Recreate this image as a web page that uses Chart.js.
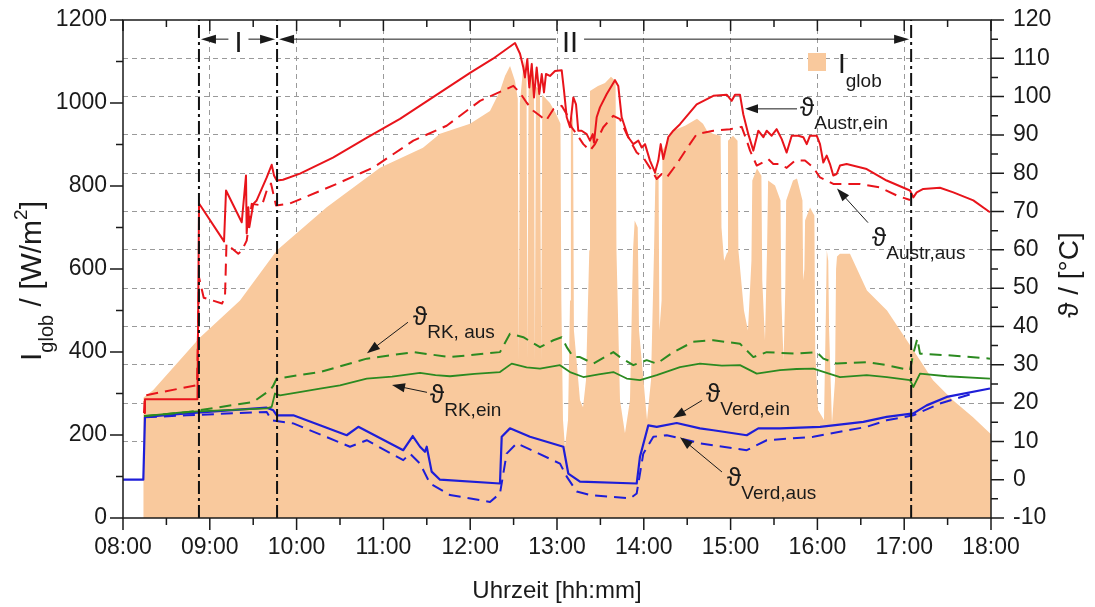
<!DOCTYPE html>
<html>
<head>
<meta charset="utf-8">
<title>Globalstrahlung und Temperaturen</title>
<script src="https://cdn.jsdelivr.net/npm/chart.js@4.4.1/dist/chart.umd.min.js"></script>
<style>
  html, body { margin: 0; padding: 0; background: #ffffff; }
  #wrap { width: 1095px; height: 607px; }
</style>
</head>
<body>
<div id="wrap"><canvas id="c" width="1095" height="607"></canvas></div>
<script>
const FONT = "'Liberation Sans', Arial, 'DejaVu Sans', sans-serif";

// Global irradiance I_glob [W/m²] as [time in h, value]
const irradiance = [
  [8.233, 0], [8.234, 290], [8.346, 308], [8.887, 435], [9.348, 524], [9.774, 645],
  [10.347, 749], [10.961, 844], [11.456, 892], [11.652, 926], [11.998, 950], [12.228, 981],
  [12.343, 1029], [12.401, 1065], [12.459, 1089], [12.516, 1053], [12.548, 1010], [12.560, 380],
  [12.572, 1000], [12.620, 1106], [12.649, 1060], [12.660, 380], [12.672, 1030], [12.712, 1101],
  [12.735, 1060], [12.745, 380], [12.757, 1040], [12.804, 1030], [12.818, 380], [12.830, 1020],
  [12.919, 1000], [12.988, 975], [13.040, 950], [13.050, 524], [13.069, 236], [13.092, 171],
  [13.127, 236], [13.150, 524], [13.160, 981], [13.185, 960], [13.195, 452], [13.265, 284],
  [13.300, 267], [13.334, 332], [13.372, 645], [13.380, 1029], [13.472, 1041], [13.553, 1048],
  [13.622, 1063], [13.675, 1053], [13.685, 645], [13.726, 284], [13.783, 204], [13.841, 284],
  [13.876, 645], [13.895, 717], [13.930, 700], [13.945, 452], [14.037, 236], [14.083, 332],
  [14.118, 645], [14.135, 837], [14.170, 825], [14.180, 452], [14.205, 524], [14.215, 885],
  [14.336, 933], [14.475, 945], [14.613, 962], [14.682, 950], [14.728, 933], [14.797, 926],
  [14.885, 921], [14.895, 700], [14.925, 620], [14.960, 640], [14.970, 909], [15.028, 921],
  [15.080, 909], [15.090, 645], [15.154, 500], [15.200, 452], [15.240, 620], [15.250, 813],
  [15.304, 842], [15.355, 825], [15.365, 572], [15.396, 428], [15.420, 645], [15.432, 813],
  [15.512, 801], [15.575, 765], [15.585, 524], [15.610, 380], [15.630, 548], [15.640, 765],
  [15.719, 813], [15.765, 818], [15.828, 765], [15.836, 572], [15.850, 600], [15.858, 717],
  [15.915, 748], [15.965, 729], [15.975, 404], [16.007, 260], [16.076, 236], [16.098, 500],
  [16.108, 645], [16.125, 620], [16.135, 452], [16.168, 228], [16.203, 332], [16.215, 600],
  [16.226, 630], [16.260, 637], [16.375, 637], [16.571, 548], [16.802, 500], [17.032, 428],
  [17.182, 380], [17.332, 332], [17.562, 284], [17.793, 243], [17.988, 204], [18.0, 202]
];

// Absorber temperatures [°C]
const austrEin = [
  [8.242, 17.4], [8.253, 21.0], [8.858, 21.0], [8.876, 72.1], [9.164, 62.2], [9.187, 75.5],
  [9.368, 67.2], [9.417, 79.4], [9.425, 64.3], [9.444, 71.1], [9.455, 65.9], [9.501, 72.0],
  [9.540, 72.9], [9.656, 78.9], [9.713, 82.2], [9.740, 79.4], [9.771, 78.1], [9.843, 78.3],
  [10.039, 79.9], [10.419, 84.1], [10.811, 89.3], [11.191, 94.2], [11.998, 106.2], [12.263, 109.9],
  [12.516, 114.0], [12.574, 111.2], [12.612, 107.6], [12.631, 105.0], [12.658, 109.8], [12.681, 102.4],
  [12.709, 108.5], [12.735, 99.8], [12.766, 107.6], [12.796, 100.7], [12.824, 105.9], [12.850, 101.1],
  [12.873, 105.9], [12.919, 105.4], [12.977, 106.7], [13.054, 106.9], [13.081, 101.5], [13.112, 94.6],
  [13.150, 92.0], [13.188, 99.8], [13.219, 98.0], [13.245, 91.1], [13.284, 91.1], [13.342, 90.2],
  [13.380, 88.5], [13.411, 90.2], [13.426, 88.0], [13.457, 94.6], [13.495, 97.2], [13.573, 100.7],
  [13.668, 104.3], [13.706, 102.8], [13.745, 94.6], [13.783, 92.0], [13.821, 89.4], [13.879, 87.6],
  [13.937, 88.5], [13.976, 86.7], [14.014, 87.6], [14.071, 83.3], [14.129, 80.2], [14.167, 83.3],
  [14.195, 87.6], [14.225, 83.7], [14.282, 89.4], [14.340, 91.1], [14.417, 92.8], [14.609, 98.0],
  [14.801, 100.2], [14.955, 100.5], [15.013, 98.9], [15.051, 100.5], [15.108, 100.5], [15.146, 95.4],
  [15.204, 90.2], [15.262, 85.9], [15.319, 91.1], [15.377, 89.4], [15.416, 91.1], [15.473, 89.8],
  [15.531, 91.5], [15.589, 88.9], [15.646, 85.4], [15.704, 89.8], [15.780, 89.8], [15.838, 89.4],
  [15.877, 87.6], [15.915, 89.8], [15.992, 89.8], [16.030, 87.6], [16.068, 82.8], [16.107, 84.6],
  [16.145, 82.4], [16.183, 79.4], [16.222, 79.8], [16.260, 82.0], [16.337, 82.4], [16.568, 81.1],
  [16.798, 78.1], [17.067, 75.5], [17.105, 73.7], [17.144, 75.0], [17.220, 75.9], [17.412, 76.2],
  [17.566, 75.0], [17.796, 72.9], [17.988, 69.8]
];

const austrAus = [
  [8.242, 17.4], [8.253, 22.0], [8.853, 24.7], [8.876, 52.8], [8.930, 47.5], [9.141, 46.0],
  [9.175, 47.6], [9.192, 61.6], [9.328, 59.0], [9.368, 59.8], [9.425, 62.4], [9.483, 72.0],
  [9.601, 71.6], [9.656, 75.5], [9.705, 77.3], [9.763, 71.6], [9.924, 72.1], [10.462, 77.2],
  [10.884, 81.5], [11.345, 88.5], [11.729, 92.4], [12.113, 98.9], [12.497, 102.8], [12.574, 101.0],
  [12.651, 98.4], [12.727, 96.3], [12.804, 95.0], [12.873, 93.7], [12.958, 96.7], [13.054, 97.6],
  [13.112, 95.4], [13.169, 92.0], [13.227, 90.2], [13.303, 87.6], [13.380, 85.9], [13.438, 87.6],
  [13.533, 92.0], [13.649, 95.0], [13.726, 94.1], [13.803, 90.2], [13.918, 85.4], [13.994, 84.1],
  [14.091, 80.7], [14.149, 78.5], [14.206, 79.8], [14.264, 78.9], [14.379, 82.4], [14.494, 86.4],
  [14.609, 90.2], [14.801, 91.1], [14.993, 91.5], [15.128, 92.1], [15.186, 88.5], [15.224, 85.9],
  [15.301, 82.0], [15.377, 82.9], [15.434, 83.7], [15.492, 82.4], [15.569, 82.4], [15.646, 81.4],
  [15.742, 83.3], [15.857, 83.3], [15.953, 81.5], [16.030, 78.9], [16.107, 78.1], [16.183, 77.2],
  [16.298, 77.2], [16.490, 77.2], [16.720, 76.3], [16.913, 74.2], [17.067, 73.0]
];

// Return-line (RK) temperatures [°C]
const rkEin = [
  [8.242, 16.6], [8.734, 17.7], [9.656, 18.6], [9.713, 19.0], [9.751, 22.5], [9.809, 22.0],
  [10.050, 22.9], [10.270, 23.8], [10.500, 24.6], [10.808, 26.4], [11.100, 26.9], [11.422, 27.9],
  [11.600, 27.3], [11.767, 27.0], [12.050, 27.6], [12.343, 28.1], [12.478, 30.3], [12.650, 29.3],
  [12.804, 29.0], [13.034, 29.9], [13.150, 28.1], [13.303, 26.8], [13.480, 27.5], [13.649, 28.1],
  [13.803, 26.4], [13.956, 26.0], [14.149, 27.3], [14.417, 29.4], [14.647, 30.3], [14.900, 29.8],
  [15.108, 29.9], [15.301, 27.7], [15.569, 28.6], [15.760, 28.9], [15.953, 29.0], [16.260, 26.8],
  [16.568, 27.3], [16.800, 26.8], [17.067, 26.0], [17.105, 24.2], [17.182, 27.7], [17.490, 27.0],
  [17.988, 26.4]
];

const rkAus = [
  [8.242, 16.6], [8.734, 17.6], [9.501, 20.3], [9.694, 23.4], [9.728, 24.4], [9.771, 26.4],
  [10.270, 28.1], [10.808, 31.6], [11.345, 33.3], [11.767, 32.0], [12.343, 33.3], [12.458, 38.1],
  [12.612, 37.2], [12.804, 34.6], [12.958, 36.4], [13.054, 37.2], [13.112, 34.6], [13.188, 32.0],
  [13.265, 32.0], [13.419, 30.3], [13.649, 33.3], [13.726, 32.0], [13.879, 29.9], [14.033, 31.2],
  [14.149, 30.3], [14.340, 33.3], [14.570, 36.0], [14.801, 36.4], [15.108, 35.5], [15.262, 32.0],
  [15.416, 33.3], [15.762, 32.9], [15.992, 33.3], [16.068, 31.6], [16.222, 30.3], [16.568, 30.7],
  [16.798, 29.9], [17.067, 28.6], [17.105, 32.9], [17.151, 36.8], [17.182, 32.9], [17.490, 32.5],
  [17.988, 31.6]
];

// Evaporator temperatures [°C]
const verdEin = [
  [8.0, 0.0], [8.234, 0.0], [8.253, 16.4], [8.734, 17.3], [9.656, 18.8], [9.732, 18.1],
  [9.771, 16.8], [9.962, 16.8], [10.577, 11.6], [10.711, 13.8], [11.229, 7.7], [11.338, 11.4],
  [11.422, 8.6], [11.479, 7.3], [11.499, 8.6], [11.556, 2.1], [11.652, 0.0], [12.343, -1.0],
  [12.363, 11.2], [12.458, 13.4], [12.689, 11.2], [13.073, 8.6], [13.130, 1.6], [13.265, -0.5],
  [13.918, -1.0], [13.956, 6.0], [14.052, 14.2], [14.149, 13.8], [14.379, 14.8], [14.647, 13.4],
  [14.801, 12.9], [15.186, 11.6], [15.319, 13.4], [15.569, 13.4], [16.030, 13.8], [16.529, 15.1],
  [16.798, 16.4], [17.105, 17.3], [17.259, 19.4], [17.490, 21.6], [17.988, 23.8]
];

const verdAus = [
  [8.253, 16.3], [8.734, 16.8], [9.656, 17.7], [9.713, 15.5], [9.962, 14.7], [10.615, 8.6],
  [10.808, 10.3], [11.229, 5.1], [11.306, 6.8], [11.422, 4.2], [11.537, -1.0], [11.767, -4.0],
  [12.228, -5.8], [12.343, -3.6], [12.420, 6.8], [12.536, 9.5], [13.035, 4.2], [13.112, 0.8],
  [13.227, -3.1], [13.380, -4.0], [13.841, -4.9], [13.918, -3.6], [13.994, 6.8], [14.110, 11.2],
  [14.264, 11.6], [14.417, 10.8], [14.647, 9.5], [15.186, 7.7], [15.416, 10.3], [15.953, 11.2],
  [16.568, 13.8], [16.798, 15.5], [17.105, 16.8], [17.412, 19.9], [17.796, 22.5]
];

// Operating phases: boundaries [h], names, label positions [h], arrow level [°C]
const phaseBounds = [8.875, 9.775, 17.08];
const phaseNames = ['I', 'II'];
const phaseLabelAt = [9.33, 13.15];
const phaseLevel = 115;

// Curve labels: subscript, text anchor [h, °C], arrow tail and head [h, °C]
const calloutSubs = ['Austr,ein', 'Austr,aus', 'RK, aus', 'RK,ein', 'Verd,ein', 'Verd,aus'];
const calloutAt   = [[15.80, 95.0], [16.629, 60.9], [11.341, 40.3], [11.537, 20.0], [14.717, 20.2], [14.959, -1.7]];
const arrowFrom   = [[15.765, 96.8], [16.583, 67.1], [11.283, 41.1], [11.502, 22.8], [14.671, 20.7], [14.901, 2.0]];
const arrowTo     = [[15.166, 96.8], [16.226, 76.0], [10.811, 33.0], [11.099, 24.7], [14.336, 16.1], [14.417, 11.1]];

// Axis ranges
const xRange = [8, 18];
const irrRange = [0, 1200];
const tempRange = [-10, 120];

const ORANGE = '#f9c99d';
const RED = '#e8141b';
const GREEN = '#2b8a20';
const BLUE = '#1e1ed8';
const INK = '#1a1a1a';

const toPts = arr => arr.map(([x, y]) => ({ x, y }));
const hhmm = v => String(Math.floor(v)).padStart(2, '0') + ':' + String(Math.round((v % 1) * 60)).padStart(2, '0');

function lineSet(data, color, dashed, width) {
  return {
    data: toPts(data), yAxisID: 'y2', borderColor: color, borderWidth: width,
    borderDash: dashed ? [12, 7] : [], pointRadius: 0, tension: 0, fill: false, order: 2,
    borderJoinStyle: 'round'
  };
}

const phaseSets = phaseBounds.map(b => ({
  data: [{ x: b, y: tempRange[0] }, { x: b, y: tempRange[1] }], yAxisID: 'y2',
  borderColor: '#111', borderWidth: 2, borderDash: [13, 4, 3, 4], pointRadius: 0, fill: false, order: 1
}));

function arrowHead(ctx, x1, y1, x2, y2, len, half) {
  const a = Math.atan2(y2 - y1, x2 - x1);
  ctx.beginPath();
  ctx.moveTo(x2, y2);
  ctx.lineTo(x2 - len * Math.cos(a) + half * Math.sin(a), y2 - len * Math.sin(a) - half * Math.cos(a));
  ctx.lineTo(x2 - len * Math.cos(a) - half * Math.sin(a), y2 - len * Math.sin(a) + half * Math.cos(a));
  ctx.closePath();
  ctx.fill();
}

function arrow(ctx, x1, y1, x2, y2, len, half) {
  const a = Math.atan2(y2 - y1, x2 - x1);
  ctx.beginPath();
  ctx.moveTo(x1, y1);
  ctx.lineTo(x2 - len * 0.6 * Math.cos(a), y2 - len * 0.6 * Math.sin(a));
  ctx.stroke();
  arrowHead(ctx, x1, y1, x2, y2, len, half);
}

// parts: [text, size, baseline shift]
function richWidth(ctx, parts) {
  let w = 0;
  for (const [t, s] of parts) { ctx.font = s + 'px ' + FONT; w += ctx.measureText(t).width; }
  return w;
}
function richText(ctx, x, y, parts) {
  for (const [t, s, dy] of parts) {
    ctx.font = s + 'px ' + FONT;
    ctx.fillText(t, x, y + dy);
    x += ctx.measureText(t).width;
  }
}

const decor = {
  id: 'decor',
  afterDraw(chart) {
    const { ctx, chartArea: a, scales } = chart;
    const sx = scales.x, sy = scales.y, st = scales.y2;
    ctx.save();
    ctx.strokeStyle = INK; ctx.fillStyle = INK;

    // frame
    ctx.lineWidth = 1.5;
    ctx.strokeRect(a.left, a.top, a.right - a.left, a.bottom - a.top);

    // tick marks
    ctx.beginPath();
    for (let v = xRange[0]; v <= xRange[1] + 1e-6; v += 0.5) {
      const p = sx.getPixelForValue(v);
      const major = Math.abs(v - Math.round(v)) < 1e-6;
      ctx.moveTo(p, a.bottom); ctx.lineTo(p, a.bottom + (major ? 12 : 7));
      ctx.moveTo(p, a.top); ctx.lineTo(p, a.top + (major ? 11 : 7));
    }
    for (let v = irrRange[0]; v <= irrRange[1]; v += 100) {
      const p = sy.getPixelForValue(v);
      ctx.moveTo(a.left, p); ctx.lineTo(a.left - (v % 200 === 0 ? 13 : 7), p);
    }
    for (let v = tempRange[0]; v <= tempRange[1]; v += 5) {
      const p = st.getPixelForValue(v);
      ctx.moveTo(a.right, p); ctx.lineTo(a.right + (v % 10 === 0 ? 13 : 7), p);
    }
    ctx.stroke();

    // axis titles
    ctx.textAlign = 'left'; ctx.textBaseline = 'alphabetic';
    const leftTitle = [['I', 30, 0], ['glob', 20, 12], [' / [W/m', 30, 0], ['2', 19, -14], [']', 30, 0]];
    ctx.save();
    ctx.translate(41, 281); ctx.rotate(-Math.PI / 2);
    richText(ctx, -richWidth(ctx, leftTitle) / 2, 0, leftTitle);
    ctx.restore();

    const rightTitle = [['\u03D1 / [°C]', 28, 0]];
    ctx.save();
    ctx.translate(1078, 275); ctx.rotate(-Math.PI / 2);
    richText(ctx, -richWidth(ctx, rightTitle) / 2, 0, rightTitle);
    ctx.restore();

    ctx.font = '24px ' + FONT; ctx.textAlign = 'center';
    ctx.fillText('Uhrzeit [hh:mm]', (a.left + a.right) / 2, 598);
    ctx.textAlign = 'left';

    // legend
    ctx.fillStyle = ORANGE;
    ctx.fillRect(a.right - 183, a.top + 33, 18, 18);
    ctx.fillStyle = INK;
    richText(ctx, a.right - 153, a.top + 53, [['I', 28, 0], ['glob', 19, 14]]);

    // operating phases
    const py = st.getPixelForValue(phaseLevel);
    ctx.lineWidth = 1;
    phaseNames.forEach((name, i) => {
      const l = sx.getPixelForValue(phaseBounds[i]) + 2;
      const r = sx.getPixelForValue(phaseBounds[i + 1]) - 2;
      const c = sx.getPixelForValue(phaseLabelAt[i]);
      ctx.font = '29px ' + FONT;
      const half = ctx.measureText(name).width / 2 + 6;
      ctx.beginPath();
      ctx.moveTo(l + 10, py); ctx.lineTo(c - half, py);
      ctx.moveTo(c + half, py); ctx.lineTo(r - 10, py);
      ctx.stroke();
      arrowHead(ctx, l + 20, py, l, py, 15, 4.5);
      arrowHead(ctx, r - 20, py, r, py, 15, 4.5);
      ctx.textAlign = 'center';
      ctx.fillText(name, c, py + 13);
      ctx.textAlign = 'left';
    });

    // curve labels
    calloutSubs.forEach((sub, i) => {
      const tx = sx.getPixelForValue(calloutAt[i][0]);
      const ty = st.getPixelForValue(calloutAt[i][1]);
      richText(ctx, tx, ty, [['\u03D1', 26, 0], [sub, 19, 13]]);
      const fx = sx.getPixelForValue(arrowFrom[i][0]), fy = st.getPixelForValue(arrowFrom[i][1]);
      const hx = sx.getPixelForValue(arrowTo[i][0]), hy = st.getPixelForValue(arrowTo[i][1]);
      ctx.lineWidth = 1;
      arrow(ctx, fx, fy, hx, hy, 13, 4.5);
    });

    ctx.restore();
  }
};

new Chart(document.getElementById('c'), {
  type: 'line',
  data: {
    datasets: [
      { data: toPts(irradiance), yAxisID: 'y', fill: 'origin', backgroundColor: ORANGE,
        borderWidth: 0, pointRadius: 0, tension: 0, order: 10 },
      lineSet(austrEin, RED, false, 2),
      lineSet(austrAus, RED, true, 2),
      lineSet(rkEin, GREEN, false, 1.8),
      lineSet(rkAus, GREEN, true, 2),
      lineSet(verdEin, BLUE, false, 2.2),
      lineSet(verdAus, BLUE, true, 2),
      ...phaseSets
    ]
  },
  options: {
    responsive: false,
    animation: false,
    devicePixelRatio: 1,
    layout: { padding: { top: 20, left: 0, right: 0, bottom: 0 } },
    plugins: { legend: { display: false }, tooltip: { enabled: false } },
    scales: {
      x: {
        type: 'linear', position: 'bottom', min: xRange[0], max: xRange[1],
        afterFit: s => { s.height = 89; s.paddingLeft = 0; s.paddingRight = 0; },
        ticks: { stepSize: 1, autoSkip: false, maxRotation: 0, padding: 16, color: INK,
                 font: { family: FONT, size: 23 }, callback: v => hhmm(v) },
        grid: { drawTicks: false, lineWidth: 1,
                color: c => (c.tick && (c.tick.value === xRange[0] || c.tick.value === xRange[1])) ? 'rgba(0,0,0,0)' : '#9a9a9a' },
        border: { display: false, dash: [5, 4] }
      },
      y: {
        type: 'linear', position: 'left', min: irrRange[0], max: irrRange[1],
        afterFit: s => { s.width = 123; s.paddingTop = 0; s.paddingBottom = 0; },
        ticks: { stepSize: 200, padding: 16, color: INK, font: { family: FONT, size: 23 },
                 callback: v => String(v) },
        grid: { display: false, drawTicks: false },
        border: { display: false }
      },
      y2: {
        type: 'linear', position: 'right', min: tempRange[0], max: tempRange[1],
        afterFit: s => { s.width = 104; s.paddingTop = 0; s.paddingBottom = 0; },
        ticks: { stepSize: 10, padding: 22, color: INK, font: { family: FONT, size: 23 },
                 callback: v => String(v) },
        grid: { drawTicks: false, drawOnChartArea: true, lineWidth: 1,
                color: c => (c.tick && (c.tick.value === tempRange[0] || c.tick.value === tempRange[1])) ? 'rgba(0,0,0,0)' : '#9a9a9a' },
        border: { display: false, dash: [5, 4] }
      }
    }
  },
  plugins: [decor]
});
</script>
</body>
</html>
